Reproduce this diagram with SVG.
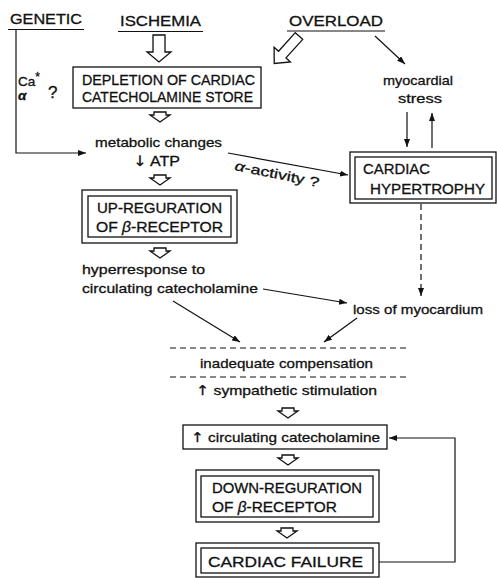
<svg xmlns="http://www.w3.org/2000/svg" width="497" height="578" viewBox="0 0 497 578">
<style>
text{font-family:"Liberation Sans",Arial,sans-serif;fill:#111;stroke:#111;stroke-width:0.3;}
.cap{font-size:14.5px;}
.low{font-size:13.5px;}
.ar{font-family:"DejaVu Sans",sans-serif;}
.box{fill:none;stroke:#111;stroke-width:1.3;}
.ln{fill:none;stroke:#111;stroke-width:1.2;}
.hol{fill:#fff;stroke:#111;stroke-width:1.3;stroke-linejoin:miter;}
.dash{fill:none;stroke:#111;stroke-width:1.2;stroke-dasharray:6,4;}
</style>
<defs>
<marker id="ah" markerUnits="userSpaceOnUse" markerWidth="9" markerHeight="7" refX="8" refY="3" orient="auto">
<path d="M0,0 L8,3 L0,6 z" fill="#111"/>
</marker>
<polygon id="sh" points="-6,0 6,0 6,3 10,3 0,10 -10,3 -6,3"/>
</defs>

<g id="genetic">
<text class="cap" x="10" y="24" textLength="72" lengthAdjust="spacingAndGlyphs">GENETIC</text>
<line class="ln" x1="8" y1="29.5" x2="84" y2="29.5"/>
<text class="low" x="18" y="86">Ca<tspan font-size="12" dy="-5">*</tspan></text>
<text class="low" x="18" y="100" font-style="italic" font-weight="bold">α</text>
<text x="48" y="98" font-size="17">?</text>
</g>

<g id="ischemia">
<text class="cap" x="120" y="26" textLength="81" lengthAdjust="spacingAndGlyphs">ISCHEMIA</text>
<line class="ln" x1="118" y1="31.5" x2="203" y2="31.5"/>
<polygon class="hol" points="153,35 165,35 165,52 171,52 159,62 147,52 153,52"/>
</g>

<g id="overload">
<text class="cap" x="289" y="26" textLength="94" lengthAdjust="spacingAndGlyphs">OVERLOAD</text>
<line class="ln" x1="287" y1="31" x2="385" y2="31"/>
<polygon class="hol" transform="translate(299,36) rotate(42)" points="-5,0 5,0 5,25 11,25 0,37 -11,25 -5,25"/>
</g>

<g id="depletion">
<rect class="box" x="73" y="67" width="188" height="41"/>
<text class="cap" x="82" y="85" textLength="173" lengthAdjust="spacingAndGlyphs">DEPLETION OF CARDIAC</text>
<text class="cap" x="82" y="102" textLength="171" lengthAdjust="spacingAndGlyphs">CATECHOLAMINE STORE</text>
<use href="#sh" class="hol" x="160" y="112"/>
</g>

<g id="metabolic">
<text class="low" x="95" y="147" textLength="127" lengthAdjust="spacingAndGlyphs">metabolic changes</text>
<text class="cap" x="133" y="166" textLength="47" lengthAdjust="spacingAndGlyphs"><tspan class="ar">↓</tspan> ATP</text>
<use href="#sh" class="hol" x="160" y="175"/>
</g>

<g id="upregulation">
<rect class="box" x="82" y="190" width="155" height="53"/>
<rect class="box" x="88" y="196" width="143" height="41"/>
<text class="cap" x="97" y="213" textLength="125" lengthAdjust="spacingAndGlyphs">UP-REGURATION</text>
<text class="cap" x="96" y="232" textLength="127" lengthAdjust="spacingAndGlyphs">OF <tspan font-style="italic">β</tspan>-RECEPTOR</text>
<use href="#sh" class="hol" x="160" y="248"/>
</g>

<g id="hyperresponse">
<text class="low" x="82" y="274" textLength="123" lengthAdjust="spacingAndGlyphs">hyperresponse to</text>
<text class="low" x="82" y="293" textLength="176" lengthAdjust="spacingAndGlyphs">circulating catecholamine</text>
</g>

<g id="myocardial-stress">
<text class="low" x="383" y="85" textLength="70" lengthAdjust="spacingAndGlyphs">myocardial</text>
<text class="low" x="398" y="103" textLength="44" lengthAdjust="spacingAndGlyphs">stress</text>
</g>

<g id="hypertrophy">
<rect class="box" x="350" y="152" width="146" height="51"/>
<rect class="box" x="355" y="157" width="137" height="42"/>
<text class="cap" x="363" y="174" textLength="67" lengthAdjust="spacingAndGlyphs">CARDIAC</text>
<text class="cap" x="370" y="194" textLength="115" lengthAdjust="spacingAndGlyphs">HYPERTROPHY</text>
</g>

<g id="loss">
<text class="low" x="353" y="314" textLength="130" lengthAdjust="spacingAndGlyphs">loss of myocardium</text>
</g>

<g id="inadequate">
<line class="dash" x1="170" y1="348" x2="406" y2="348"/>
<text class="low" x="200" y="368" textLength="173" lengthAdjust="spacingAndGlyphs">inadequate compensation</text>
<line class="dash" x1="170" y1="377" x2="406" y2="377"/>
</g>

<g id="sympathetic">
<text class="low" x="196" y="395" textLength="181" lengthAdjust="spacingAndGlyphs"><tspan class="ar">↑</tspan> sympathetic stimulation</text>
<use href="#sh" class="hol" x="288" y="408"/>
</g>

<g id="circulating">
<rect class="box" x="183" y="425" width="204" height="24"/>
<text class="low" x="191" y="442" textLength="189" lengthAdjust="spacingAndGlyphs"><tspan class="ar">↑</tspan> circulating catecholamine</text>
<use href="#sh" class="hol" x="288" y="455"/>
</g>

<g id="downregulation">
<rect class="box" x="196" y="470" width="183" height="52"/>
<rect class="box" x="201" y="476" width="172" height="41"/>
<text class="cap" x="212" y="493" textLength="150" lengthAdjust="spacingAndGlyphs">DOWN-REGURATION</text>
<text class="cap" x="212" y="512" textLength="125" lengthAdjust="spacingAndGlyphs">OF <tspan font-style="italic">β</tspan>-RECEPTOR</text>
<use href="#sh" class="hol" x="287" y="528"/>
</g>

<g id="failure">
<rect class="box" x="196" y="543" width="183" height="34"/>
<rect class="box" x="201" y="548" width="172" height="25"/>
<text class="cap" x="208" y="567" textLength="155" lengthAdjust="spacingAndGlyphs">CARDIAC FAILURE</text>
</g>

<g id="connectors">
<path class="ln" d="M16,30 V153 H86" marker-end="url(#ah)"/>
<path class="ln" d="M375,36 L405,64" marker-end="url(#ah)"/>
<path class="ln" d="M407,112 V147" marker-end="url(#ah)"/>
<path class="ln" d="M432,148 V113" marker-end="url(#ah)"/>
<path class="ln" d="M228,153 L348,175" marker-end="url(#ah)"/>
<text class="low" x="234" y="170" transform="rotate(11.5 234 170)" textLength="86" lengthAdjust="spacingAndGlyphs"><tspan font-style="italic">α</tspan>-activity ?</text>
<path class="dash" d="M421,204 V296" stroke-dasharray="5,3" marker-end="url(#ah)"/>
<path class="ln" d="M263,289 L347,303" marker-end="url(#ah)"/>
<path class="ln" d="M173,301 L240,342" marker-end="url(#ah)"/>
<path class="ln" d="M357,318 L324,342" marker-end="url(#ah)"/>
<path class="ln" d="M379,562 H455 V438 H389" marker-end="url(#ah)"/>
</g>
</svg>
